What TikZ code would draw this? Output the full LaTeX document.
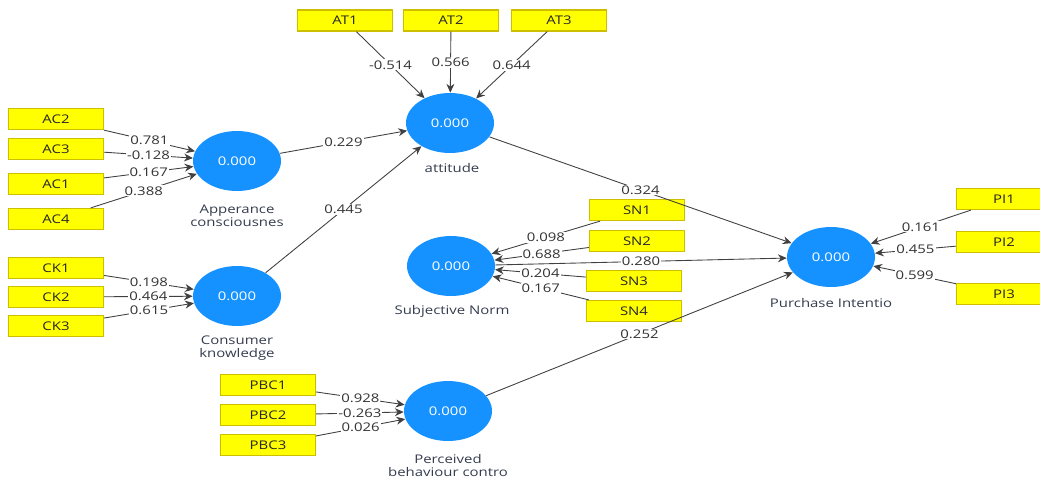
\documentclass[tikz,border=0pt]{standalone}
\usepackage{fontspec}
\setmainfont{Open Sans}[FakeStretch=1.25]
\usetikzlibrary{arrows.meta,shapes.geometric}
\definecolor{latentblue}{RGB}{21,146,255}
\definecolor{itemyellow}{RGB}{255,255,0}
\definecolor{itemborder}{RGB}{205,190,0}
\definecolor{namegray}{RGB}{52,60,78}
\providecommand{\plsfont}{\fontsize{6.8}{7.4}\selectfont}

\begin{document}
\begin{tikzpicture}[x=0.02cm,y=-0.02cm,
    indicator/.style={rectangle,draw=itemborder,fill=itemyellow,line width=0.7pt,
      minimum width=1.9cm,minimum height=0.42cm,inner sep=0,text=black!85,font=\plsfont},
    construct/.style={ellipse,fill=latentblue,minimum width=1.76cm,minimum height=1.2cm,
      inner sep=0,text=white,font=\plsfont},
    lname/.style={text=namegray,align=center,inner sep=0,font=\plsfont},
    link/.style={draw=black!75,line width=0.5pt,-{Stealth[length=5pt,width=4.5pt]}},
    coef/.style={fill=white,inner sep=0.6pt,text=black!80,font=\plsfont}]
    \useasboundingbox (0,0) rectangle (1040,481);
    \clip (0,0) rectangle (1040,481);
    % latent variables
    \node[construct] (att) at (450,123) {0.000};
    \node[construct] (appc) at (237,161) {0.000};
    \node[construct] (ckn) at (237,296) {0.000};
    \node[construct] (sbn) at (451,266) {0.000};
    \node[construct] (pint) at (831,257) {0.000};
    \node[construct] (pbc) at (448,411) {0.000};
    \node[lname] (attname) at (452,168) {attitude};
    \node[lname] (appcname) at (237,216) {Apperance\\consciousnes};
    \node[lname] (cknname) at (237,348) {Consumer\\knowledge};
    \node[lname] (sbnname) at (452,311) {Subjective Norm};
    \node[lname] (pintname) at (831,303) {Purchase Intentio};
    \node[lname] (pbcname) at (448,466) {Perceived\\behaviour contro};
    % indicators
    \node[indicator] (at1) at (345,20.5) {AT1};
    \node[indicator] (at2) at (451,20.5) {AT2};
    \node[indicator] (at3) at (559,20.5) {AT3};
    \node[indicator] (ac2) at (56,119) {AC2};
    \node[indicator] (ac3) at (56,149) {AC3};
    \node[indicator] (ac1) at (56,184) {AC1};
    \node[indicator] (ac4) at (56,219) {AC4};
    \node[indicator] (ck1) at (56,268) {CK1};
    \node[indicator] (ck2) at (56,297) {CK2};
    \node[indicator] (ck3) at (56,326) {CK3};
    \node[indicator] (sn1) at (637,210) {SN1};
    \node[indicator] (sn2) at (637,241) {SN2};
    \node[indicator] (sn3) at (634,281) {SN3};
    \node[indicator] (sn4) at (634,311) {SN4};
    \node[indicator] (pi1) at (1004,199) {PI1};
    \node[indicator] (pi2) at (1004,242) {PI2};
    \node[indicator] (pi3) at (1004,294) {PI3};
    \node[indicator] (pbc1) at (268,385) {PBC1};
    \node[indicator] (pbc2) at (268,415) {PBC2};
    \node[indicator] (pbc3) at (268,445) {PBC3};
    % outer weights
    \draw[link] (at1) -- node[coef] {-0.514} (att);
    \draw[link] (at2) -- node[coef] {0.566} (att);
    \draw[link] (at3) -- node[coef] {0.644} (att);
    \draw[link] (ac2) -- node[coef] {0.781} (appc);
    \draw[link] (ac3) -- node[coef] {-0.128} (appc);
    \draw[link] (ac1) -- node[coef] {0.167} (appc);
    \draw[link] (ac4) -- node[coef] {0.388} (appc);
    \draw[link] (ck1) -- node[coef] {0.198} (ckn);
    \draw[link] (ck2) -- node[coef] {0.464} (ckn);
    \draw[link] (ck3) -- node[coef] {0.615} (ckn);
    \draw[link] (sn1) -- node[coef] {0.098} (sbn);
    \draw[link] (sn2) -- node[coef] {0.688} (sbn);
    \draw[link] (sn3) -- node[coef] {0.204} (sbn);
    \draw[link] (sn4) -- node[coef] {0.167} (sbn);
    \draw[link] (pi1) -- node[coef] {0.161} (pint);
    \draw[link] (pi2) -- node[coef] {0.455} (pint);
    \draw[link] (pi3) -- node[coef] {0.599} (pint);
    \draw[link] (pbc1) -- node[coef] {0.928} (pbc);
    \draw[link] (pbc2) -- node[coef] {-0.263} (pbc);
    \draw[link] (pbc3) -- node[coef] {0.026} (pbc);
    % path coefficients
    \draw[link] (appc) -- node[coef] {0.229} (att);
    \draw[link] (ckn) -- node[coef] {0.445} (att);
    \draw[link] (att) -- node[coef] {0.324} (pint);
    \draw[link] (sbn) -- node[coef] {0.280} (pint);
    \draw[link] (pbc) -- node[coef] {0.252} (pint);
\end{tikzpicture}
\end{document}
